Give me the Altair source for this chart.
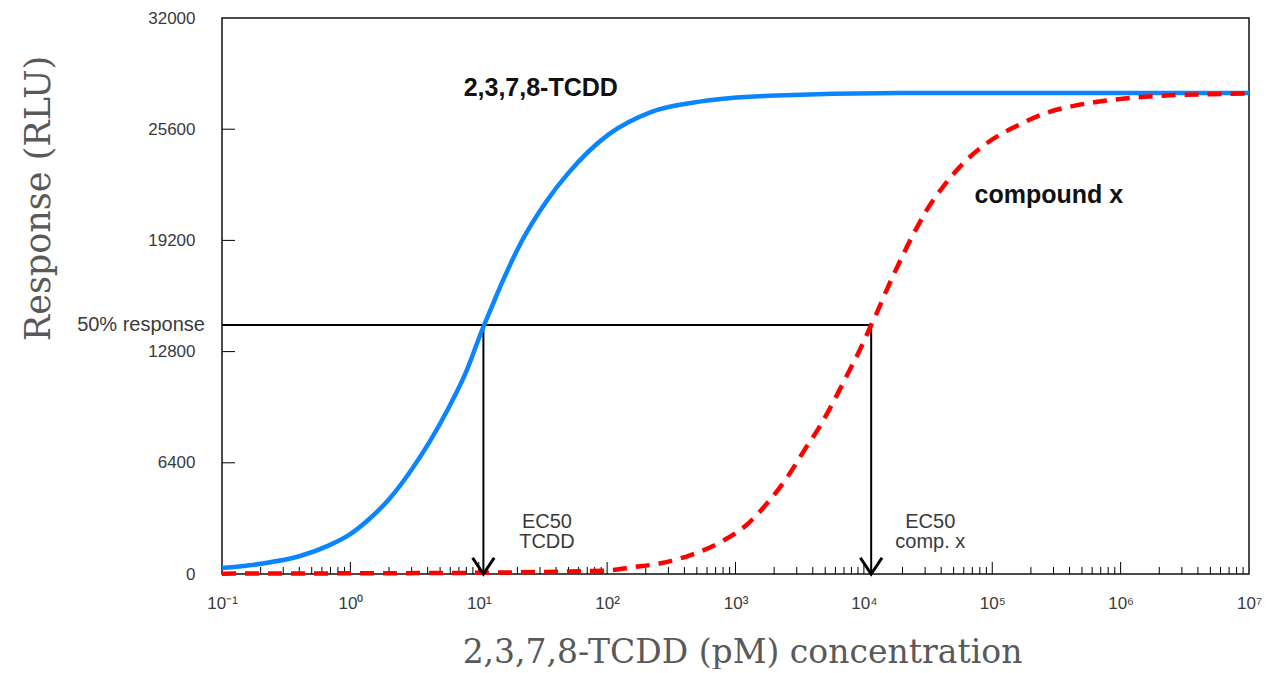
import altair as alt
import pandas as pd

# ---- data ----
tcdd_conc = [0.1, 0.1365, 0.2056, 0.399, 0.682, 0.977, 1.396, 2.00, 2.864, 4.093, 5.86, 7.94,
             10.57, 12.59, 15.14, 21.6, 33.3, 50.2, 102.8, 221.8, 543, 1803, 18620, 1e7]
tcdd_resp = [340, 430, 600, 1020, 1650, 2250, 3150, 4300, 5800, 7550, 9600, 11600,
             14000, 15350, 16750, 19150, 21400, 23100, 25300, 26600, 27200, 27520, 27680, 27680]

cx_conc = [0.1, 1, 10, 31.6, 100, 155, 261, 447, 776, 1219, 1807, 2495, 3388, 4581, 5781,
           7295, 9376, 11400, 12470, 14960, 18540, 24270, 30620, 41500, 61520, 92900,
           150700, 257600, 465600, 839500, 1545000, 2786000, 5035000, 1e7]
cx_resp = [20, 40, 70, 120, 200, 385, 616, 1093, 1859, 2820, 4161, 5507, 7050, 8550, 9900,
           11350, 12950, 14330, 14950, 16300, 17800, 19550, 20900, 22300, 23750, 24850,
           25742, 26513, 26991, 27278, 27469, 27567, 27607, 27663]

half_response = 14330
ec50_conc = [10.87, 11400]
ec50_labels_top = ["EC50", "EC50"]
ec50_labels_bot = ["TCDD", "comp. x"]
ec50_label_conc = [34.0, 32900]
ec50_label_resp_top = 2993
ec50_label_resp_bot = 1842

curve_names = ["2,3,7,8-TCDD", "compound x"]
curve_name_conc = [30.4, 276000]
curve_name_resp = [27970, 21810]

y_ticks = [0, 6400, 12800, 19200, 25600, 32000]
x_decades = [0.1, 1, 10, 100, 1000, 1e4, 1e5, 1e6, 1e7]
minor_ticks = [m * d for d in [0.1, 1, 10, 100, 1000, 1e4, 1e5, 1e6] for m in range(2, 10)]

W, H = 1027, 556
xs = alt.Scale(type="log", domain=[0.1, 1e7], nice=False)
ys = alt.Scale(domain=[0, 32000], nice=False)

label_font = "Liberation Sans"
title_font = "DejaVu Serif"
gray = "#3a3a3a"

x_axis = alt.Axis(
    values=x_decades, ticks=False, domain=False, grid=False,
    labelExpr="'10' + ['\u207b\u00b9','\u2070','\u00b9','\u00b2','\u00b3','\u2074','\u2075','\u2076','\u2077'][round(log(datum.value)/LN10)+1]",
    labelFont=label_font, labelFontSize=17, labelColor=gray, labelPadding=29,
    labelBaseline="middle", labelFlush=False, labelOverlap=False,
    title="2,3,7,8-TCDD (pM) concentration", titleFont=title_font, titleFontSize=33,
    titleFontWeight="normal", titleColor="#595959", titleX=520, titleY=78,
    titleAlign="center", titleBaseline="middle")
y_axis = alt.Axis(
    values=y_ticks, ticks=False, domain=False, grid=False, format="d",
    labelFont=label_font, labelFontSize=17, labelColor=gray, labelPadding=27,
    labelFlush=False, labelOverlap=False,
    title="Response (RLU)", titleFont=title_font, titleFontSize=35,
    titleFontWeight="normal", titleColor="#595959", titleX=-184, titleY=180,
    titleAngle=270, titleAlign="center", titleBaseline="middle")


def X(f):
    return alt.X(f, type="quantitative", scale=xs, axis=x_axis)


def Y(f):
    return alt.Y(f, type="quantitative", scale=ys, axis=y_axis)


tcdd = pd.DataFrame({"conc": tcdd_conc, "resp": tcdd_resp})
cx = pd.DataFrame({"conc": cx_conc, "resp": cx_resp})

blue = alt.Chart(tcdd).mark_line(color="#0a84ff", strokeWidth=4.5, interpolate="monotone").encode(
    x=X("conc"), y=Y("resp"))

red = alt.Chart(cx).mark_line(color="#ff0000", strokeWidth=4.5, strokeDash=[14, 9],
                              interpolate="monotone").encode(x=X("conc"), y=Y("resp"))

hline = alt.Chart(pd.DataFrame({"conc": [0.1], "x2": [ec50_conc[1]], "resp": [half_response]})).mark_rule(
    color="black", strokeWidth=2).encode(x=X("conc"), x2="x2:Q", y=Y("resp"))

vlines = alt.Chart(pd.DataFrame({"conc": ec50_conc, "resp": [half_response] * 2, "y2": [0, 0]})).mark_rule(
    color="black", strokeWidth=2).encode(x=X("conc"), y=Y("resp"), y2="y2:Q")

heads = alt.Chart(pd.DataFrame({"conc": ec50_conc, "resp": [0, 0]})).mark_point(
    shape="M -1 -1.5 L 0 0 L 1 -1.5", size=470, filled=False, stroke="black",
    strokeWidth=3, opacity=1, strokeJoin="miter").encode(x=X("conc"), y=Y("resp"))

major_x = alt.Chart(pd.DataFrame({"conc": x_decades[1:-1]})).mark_rule(color="black", strokeWidth=1).encode(
    x=X("conc"), y=alt.value(H), y2=alt.value(H - 12))
minor_x = alt.Chart(pd.DataFrame({"conc": minor_ticks})).mark_rule(color="black", strokeWidth=1).encode(
    x=X("conc"), y=alt.value(H), y2=alt.value(H - 7))
ytk = alt.Chart(pd.DataFrame({"resp": y_ticks[1:-1]})).mark_rule(color="black", strokeWidth=1).encode(
    y=Y("resp"), x=alt.value(0), x2=alt.value(13))

half_lbl = alt.Chart(pd.DataFrame({"resp": [half_response], "t": ["50%  response"]})).mark_text(
    font=label_font, fontSize=20, color=gray, align="right", baseline="middle").encode(
    y=Y("resp"), x=alt.value(-17), text="t:N")

names = alt.Chart(pd.DataFrame({"conc": curve_name_conc, "resp": curve_name_resp, "t": curve_names})).mark_text(
    font=label_font, fontSize=25, fontWeight="bold", color="#111", align="center", baseline="middle").encode(
    x=X("conc"), y=Y("resp"), text="t:N")

ec_df = pd.DataFrame({
    "conc": ec50_label_conc + ec50_label_conc,
    "resp": [ec50_label_resp_top] * 2 + [ec50_label_resp_bot] * 2,
    "t": ec50_labels_top + ec50_labels_bot,
})
ec_txt = alt.Chart(ec_df).mark_text(font=label_font, fontSize=20, color=gray,
                                    align="center", baseline="middle").encode(
    x=X("conc"), y=Y("resp"), text="t:N")

chart = alt.layer(
    hline, vlines, major_x, minor_x, ytk, blue, red, heads, half_lbl, names, ec_txt
).properties(
    width=W, height=H,
    autosize=alt.AutoSizeParams(type="none"),
    padding={"left": 214, "top": 10, "right": 15, "bottom": 95},
    background="white",
).configure_view(stroke="#111", strokeWidth=1.5)

chart.save("out.html", embed_options={"renderer": "svg", "actions": False})
